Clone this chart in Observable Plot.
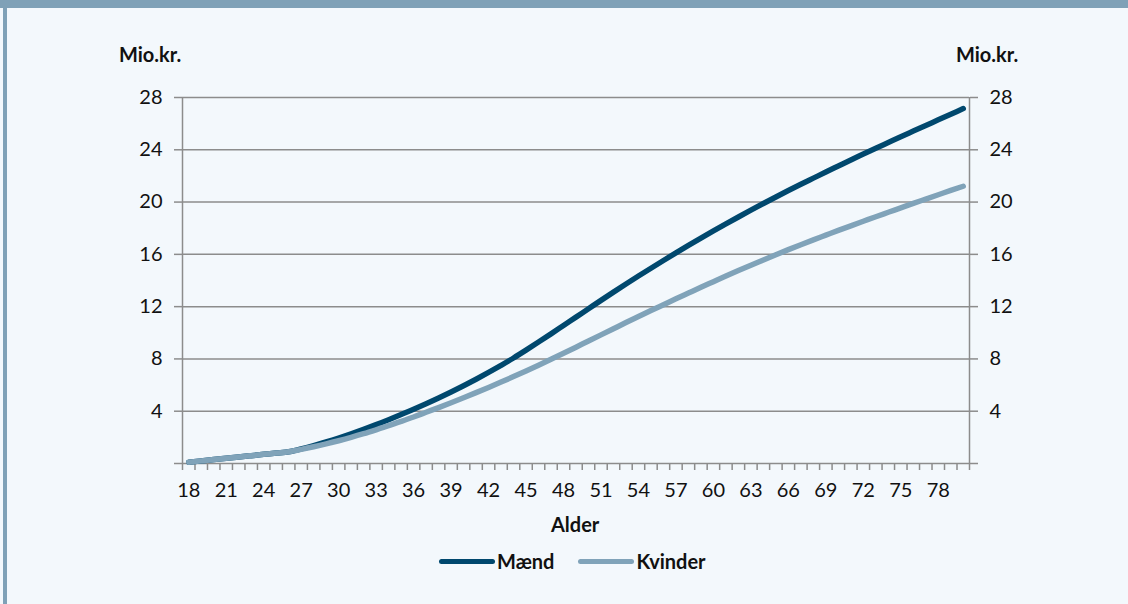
<!DOCTYPE html>
<html><head><meta charset="utf-8">
<script src="https://cdn.jsdelivr.net/npm/d3@7"></script>
<script src="https://cdn.jsdelivr.net/npm/@observablehq/plot@0.6"></script>
<style>
html,body{margin:0;padding:0;}
body{width:1128px;height:604px;background:#f3f8fc;position:relative;overflow:hidden;font-family:Lato,"Open Sans",sans-serif;color:#111;}
#topbar{position:absolute;left:0;top:0;width:1128px;height:8px;background:#7fa1b7;}
#leftbar{position:absolute;left:3px;top:0;width:4px;height:604px;background:#7fa1b7;}
#chart{position:absolute;left:0;top:0;}
.lbl{position:absolute;font-weight:bold;font-size:20px;line-height:20px;white-space:nowrap;}
#legend{position:absolute;top:551px;left:439px;display:flex;align-items:center;font-weight:bold;font-size:20px;line-height:20px;}
.sw{display:inline-block;width:56px;height:5px;border-radius:3px;margin-right:2px;}
</style></head>
<body>
<div id="topbar"></div>
<div id="leftbar"></div>
<div id="chart"></div>
<div class="lbl" style="left:119px;top:44px;">Mio.kr.</div>
<div class="lbl" style="left:956px;top:44px;">Mio.kr.</div>
<div class="lbl" style="left:551px;top:514px;">Alder</div>
<div id="legend"><span class="sw" style="background:#00486e"></span><span>Mænd</span><span class="sw" style="background:#80a3b9;margin-left:24px"></span><span>Kvinder</span></div>
<script>
const ages = [18,19,20,21,22,23,24,25,26,27,28,29,30,31,32,33,34,35,36,37,38,39,40,41,42,43,44,45,46,47,48,49,50,51,52,53,54,55,56,57,58,59,60,61,62,63,64,65,66,67,68,69,70,71,72,73,74,75,76,77,78,79,80];
const maend = [0.1,0.2,0.3,0.4,0.5,0.6,0.7,0.8,0.9,1.12,1.37,1.65,1.95,2.27,2.61,2.97,3.35,3.75,4.15,4.57,5.01,5.47,5.95,6.45,6.97,7.51,8.07,8.67,9.29,9.92,10.56,11.2,11.84,12.48,13.11,13.73,14.34,14.94,15.53,16.11,16.68,17.24,17.79,18.33,18.86,19.38,19.89,20.39,20.88,21.36,21.83,22.3,22.76,23.22,23.67,24.12,24.56,25.0,25.43,25.86,26.29,26.72,27.15];
const kvinder = [0.1,0.2,0.3,0.4,0.5,0.6,0.7,0.8,0.9,1.08,1.28,1.5,1.74,2.0,2.28,2.58,2.89,3.22,3.56,3.92,4.28,4.65,5.03,5.42,5.82,6.23,6.65,7.08,7.52,7.97,8.43,8.9,9.37,9.84,10.31,10.78,11.24,11.7,12.15,12.6,13.04,13.48,13.91,14.34,14.76,15.17,15.57,15.97,16.36,16.74,17.11,17.47,17.83,18.18,18.53,18.88,19.22,19.56,19.9,20.23,20.56,20.89,21.21];
const xTickLabels = [18,21,24,27,30,33,36,39,42,45,48,51,54,57,60,63,66,69,72,75,78];
const yTicks = [0,4,8,12,16,20,24,28];
const series = ["Mænd","Kvinder"];
const colors = ["#00486e","#80a3b9"];

const rowsM = ages.map((a,i)=>({age:a, v:maend[i]}));
const rowsK = ages.map((a,i)=>({age:a, v:kvinder[i]}));
const bounds = [ages[0]-0.5, ...ages.map(a=>a+0.5)];
const grid = "#8c8c8c";

const chart = Plot.plot({
  width:1128, height:530,
  marginLeft:182, marginRight:159, marginTop:97, marginBottom:67,
  style:{background:"transparent", fontFamily:"Lato, 'Open Sans', sans-serif", fontSize:"20px", color:"#111"},
  x:{domain:[bounds[0], bounds[bounds.length-1]]},
  y:{domain:[0,28]},
  marks:[
    Plot.gridY(yTicks.slice(1), {stroke:grid, strokeOpacity:1, strokeWidth:1.5}),
    Plot.ruleY([0], {stroke:grid, strokeWidth:1.5}),
    Plot.ruleX([bounds[0], bounds[bounds.length-1]], {stroke:grid, strokeWidth:1.5}),
    Plot.axisY(yTicks, {anchor:"left", tickSize:8, tickPadding:12, stroke:grid, strokeWidth:1.5, fill:"#111", tickFormat:d=>d===0?"":d, label:null}),
    Plot.axisY(yTicks, {anchor:"right", tickSize:8, tickPadding:12, stroke:grid, strokeWidth:1.5, fill:"#111", tickFormat:d=>d===0?"":d, label:null}),
    Plot.axisX(bounds, {tickSize:7, stroke:grid, strokeWidth:1.5, tickFormat:()=>"", label:null}),
    Plot.axisX(xTickLabels, {tickSize:0, tickPadding:19, fill:"#111", label:null}),
    Plot.line(rowsM, {x:"age", y:"v", stroke:colors[0], strokeWidth:5.5, curve:"monotone-x", strokeLinecap:"round"}),
    Plot.line(rowsK, {x:"age", y:"v", stroke:colors[1], strokeWidth:5.5, curve:"monotone-x", strokeLinecap:"round"})
  ]
});
document.getElementById("chart").appendChild(chart);
</script>
</body></html>
